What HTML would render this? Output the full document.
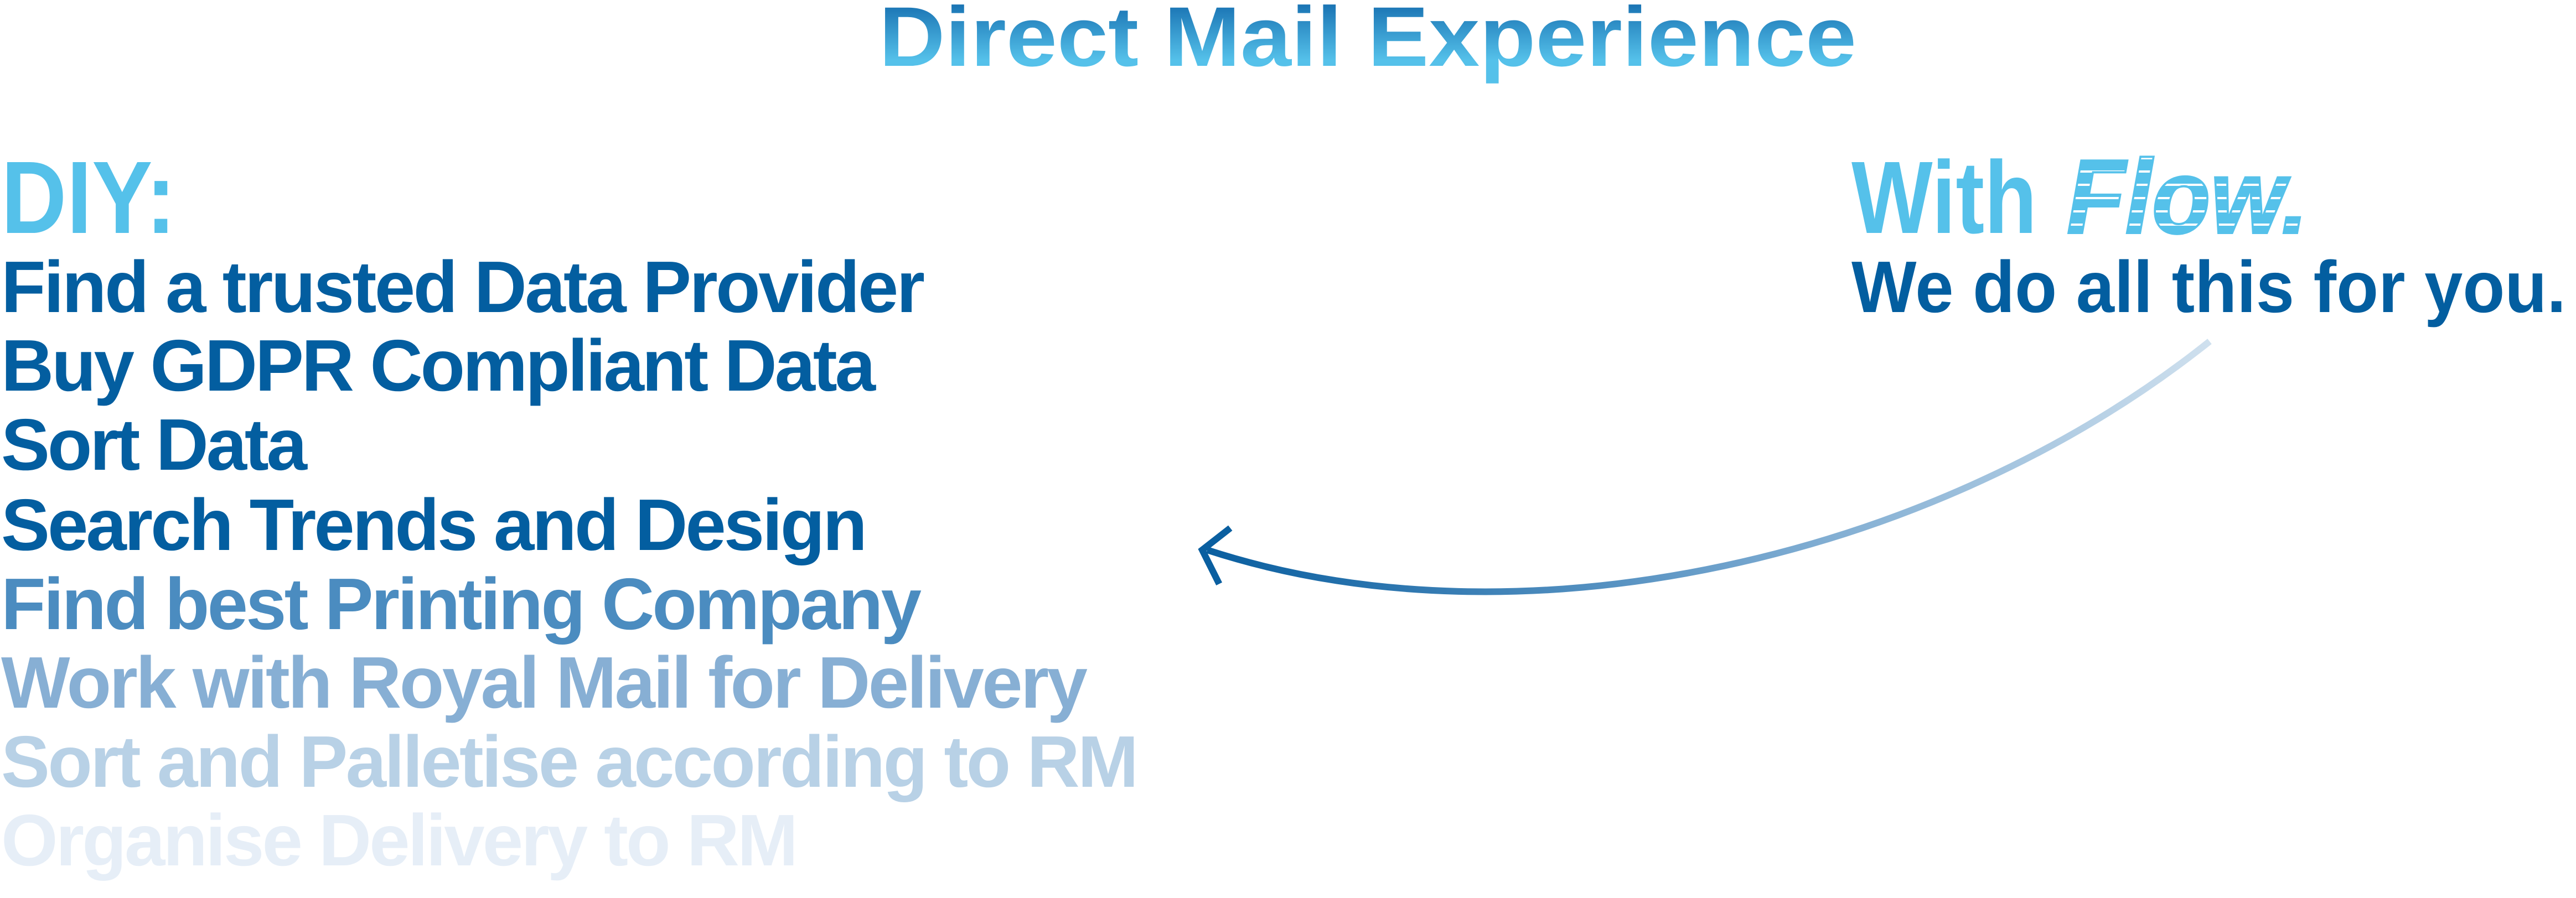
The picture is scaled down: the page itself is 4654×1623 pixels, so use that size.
<!DOCTYPE html>
<html><head><meta charset="utf-8"><style>html,body{margin:0;padding:0;background:#fff}svg{display:block}</style></head>
<body>
<svg width="4654" height="1623" viewBox="0 0 4654 1623" xmlns="http://www.w3.org/2000/svg" font-family="'Liberation Sans', sans-serif" font-weight="bold">
<defs>
<linearGradient id="tg" x1="0" y1="0" x2="0" y2="1">
<stop offset="0" stop-color="#0a5fa5"/><stop offset="0.75" stop-color="#55c1ea"/><stop offset="1" stop-color="#55c1ea"/>
</linearGradient>
<linearGradient id="ag" gradientUnits="userSpaceOnUse" x1="3992" y1="617" x2="2181" y2="994">
<stop offset="0" stop-color="#cfe0ee"/><stop offset="0.5" stop-color="#6fa2cc"/><stop offset="1" stop-color="#0a5fa0"/>
</linearGradient>
<pattern id="stripes" patternUnits="userSpaceOnUse" width="40" height="24">
<rect width="40" height="24" fill="#fff"/><rect y="0" width="40" height="20" fill="#55c1ea"/>
</pattern>
</defs>
<text x="1588" y="119" font-size="153" textLength="1766" lengthAdjust="spacingAndGlyphs" fill="url(#tg)">Direct Mail Experience</text>

<text x="2" y="421" font-size="186" textLength="316" lengthAdjust="spacingAndGlyphs" fill="#55c1ea">DIY:</text>
<g font-size="132" lengthAdjust="spacingAndGlyphs">
<text x="2" y="564" textLength="1669" fill="#035ea0">Find a trusted Data Provider</text>
<text x="2" y="706" textLength="1580" fill="#035ea0">Buy GDPR Compliant Data</text>
<text x="2" y="849" textLength="553" fill="#035ea0">Sort Data</text>
<text x="2" y="994" textLength="1565" fill="#035ea0">Search Trends and Design</text>
<text x="2" y="1137" textLength="1663" fill="#4b8cc0">Find best Printing Company</text>
<text x="2" y="1279" textLength="1963" fill="#87afd4">Work with Royal Mail for Delivery</text>
<text x="2" y="1422" textLength="2055" fill="#b8d1e6">Sort and Palletise according to RM</text>
<text x="2" y="1564" textLength="1440" fill="#e6eef7">Organise Delivery to RM</text>
</g>

<text x="3345" y="421" font-size="186" textLength="335" lengthAdjust="spacingAndGlyphs" fill="#55c1ea">With</text>
<text x="3734" y="421" font-size="190" font-style="italic" textLength="436" lengthAdjust="spacingAndGlyphs" fill="url(#stripes)" stroke="#55c1ea" stroke-width="4">Flow.</text>
<text x="3345" y="564" font-size="132" textLength="1291" lengthAdjust="spacingAndGlyphs" fill="#035ea0">We do all this for you.</text>

<path d="M3992,617 C3500,1010 2750,1180 2181,994" fill="none" stroke="url(#ag)" stroke-width="12"/>
<path d="M2218,958 L2172,994 L2200,1050" fill="none" stroke="#0a5fa0" stroke-width="12" stroke-linecap="square"/>
</svg>
</body></html>
